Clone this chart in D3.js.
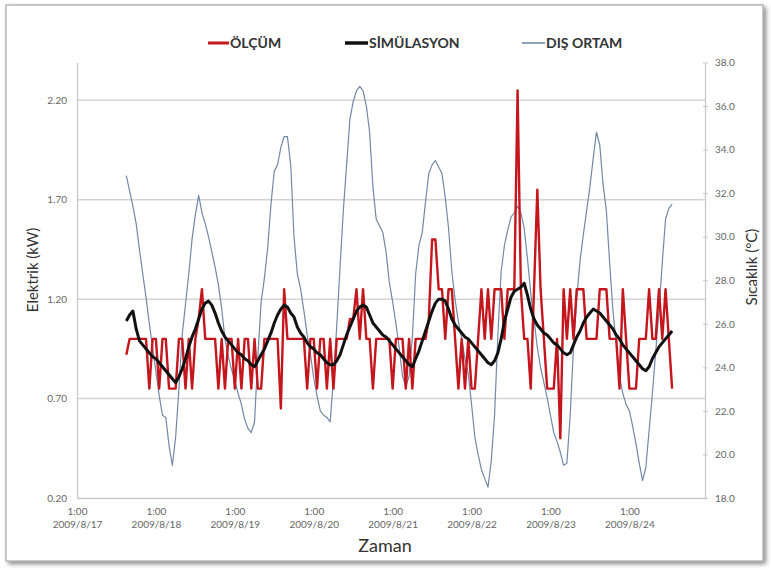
<!DOCTYPE html>
<html><head><meta charset="utf-8">
<script src="https://cdn.jsdelivr.net/npm/d3@7"></script>
<style>
html,body{margin:0;padding:0;background:#fff;}
svg{display:block;}
text{font-family:Lato,"Open Sans",sans-serif;}
</style></head>
<body>
<svg id="c" width="771" height="570"></svg>
<script>
// ---- data (hourly, starting 2009/8/17 16:00) ----
const startHourOffset = 15; // hours after 2009/8/17 1:00
const olcum = [
0.92,1.0,1.0,1.0,1.0,1.0,1.0,0.75,1.0,1.0,
0.75,1.0,1.0,0.75,0.75,0.75,1.0,1.0,0.75,1.0,
0.75,1.0,1.1,1.25,1.0,1.0,1.0,1.0,0.75,1.0,
0.75,1.0,1.0,0.75,1.0,0.75,1.0,1.0,0.75,1.0,
0.75,0.75,1.0,1.0,1.0,1.0,1.0,0.65,1.25,1.0,
1.0,1.0,1.0,1.0,1.0,0.75,1.0,1.0,0.75,1.0,
1.0,0.75,1.0,0.75,1.0,1.0,1.0,1.0,1.1,1.1,
1.25,1.0,1.25,1.0,1.0,0.75,1.0,1.0,1.0,1.0,
1.0,0.75,1.0,1.0,1.0,0.75,1.0,0.75,1.0,1.0,
1.0,1.0,1.1,1.5,1.5,1.25,1.25,1.0,1.25,1.25,
1.0,0.75,1.0,0.75,1.0,0.75,0.75,1.0,1.25,1.0,
1.25,1.0,1.25,1.25,1.25,1.0,1.25,1.25,1.25,2.25,
1.25,1.0,1.0,0.75,1.25,1.75,1.25,1.0,0.75,0.75,
0.75,1.0,0.5,1.25,1.0,1.25,1.0,1.25,1.25,1.25,
1.0,1.0,1.0,1.0,1.25,1.25,1.25,1.0,1.0,1.0,
0.75,1.25,1.0,0.75,0.75,0.75,1.0,1.0,1.0,1.25,
1.0,1.0,1.25,1.0,1.25,1.0,0.75
];
const simulasyon = [
1.09,1.12,1.14,1.05,0.99,0.97,0.95,0.93,0.91,0.90,
0.88,0.86,0.84,0.82,0.80,0.78,0.81,0.85,0.90,0.96,
1.01,1.05,1.10,1.15,1.18,1.19,1.17,1.13,1.08,1.04,
1.01,0.99,0.97,0.95,0.93,0.92,0.90,0.89,0.87,0.86,
0.89,0.92,0.95,0.99,1.03,1.08,1.12,1.15,1.17,1.16,
1.13,1.11,1.06,1.03,1.01,0.98,0.96,0.95,0.93,0.92,
0.90,0.88,0.87,0.87,0.89,0.92,0.97,1.02,1.06,1.10,
1.14,1.16,1.17,1.16,1.12,1.08,1.06,1.04,1.02,1.01,
0.99,0.97,0.95,0.93,0.91,0.89,0.87,0.86,0.90,0.94,
0.99,1.04,1.09,1.14,1.18,1.20,1.20,1.19,1.15,1.10,
1.07,1.05,1.03,1.01,1.00,0.98,0.96,0.94,0.92,0.90,
0.88,0.87,0.89,0.93,1.00,1.09,1.15,1.21,1.24,1.25,
1.26,1.28,1.22,1.15,1.10,1.07,1.05,1.03,1.02,1.00,
0.98,0.97,0.95,0.93,0.92,0.93,0.97,1.01,1.04,1.08,
1.11,1.13,1.15,1.14,1.13,1.11,1.09,1.07,1.05,1.02,
1.00,0.97,0.95,0.93,0.91,0.89,0.87,0.85,0.84,0.86,
0.90,0.93,0.96,0.98,1.00,1.02,1.04
];
const disOrtam = [
32.8,32.1,31.4,30.6,29.4,28.3,27.2,26.0,24.9,23.8,
22.7,21.8,21.7,20.4,19.5,20.8,23.0,25.5,26.9,28.3,
29.9,31.0,31.9,31.1,30.6,30.0,29.3,28.6,27.8,26.7,
25.3,24.5,23.9,23.4,22.8,22.3,21.6,21.2,21.0,21.5,
24.5,27.0,28.1,29.5,31.5,33.0,33.3,34.1,34.6,34.6,
33.3,30.0,28.3,27.6,26.6,25.5,24.6,23.5,22.7,22.0,
21.8,21.7,21.5,23.5,25.9,28.6,31.2,33.3,35.4,36.2,
36.7,36.9,36.7,36.0,34.8,32.3,30.8,30.5,30.2,29.3,
27.9,27.0,26.0,24.9,23.6,23.1,23.6,25.4,28.3,29.6,
30.2,31.6,32.9,33.3,33.5,33.2,32.9,31.8,30.4,28.4,
27.1,26.1,25.3,24.4,23.7,22.3,20.8,20.0,19.3,18.9,
18.5,19.7,21.8,25.5,28.4,29.6,30.3,30.9,31.1,31.4,
31.1,30.4,29.0,27.4,26.2,24.9,24.0,23.3,22.6,21.8,
21.0,20.6,20.1,19.5,19.6,21.8,24.9,27.2,28.9,30.1,
31.2,32.3,33.6,34.8,34.2,32.4,31.2,28.8,26.6,25.1,
23.6,22.8,22.3,22.0,21.3,20.5,19.6,18.8,19.4,21.1,
22.8,24.7,26.6,28.8,30.8,31.3,31.5
];
const xTickDates = ["2009/8/17","2009/8/18","2009/8/19","2009/8/20","2009/8/21","2009/8/22","2009/8/23","2009/8/24"];
const xTickTime = "1:00";
const leftTicks = [0.20,0.70,1.20,1.70,2.20];
const rightTicks = [18,20,22,24,26,28,30,32,34,36,38];
const seriesNames = ["ÖLÇÜM","SİMÜLASYON","DIŞ ORTAM"];

// ---- layout ----
const svg = d3.select("#c");
const L = 77, R = 705, T = 62.5, B = 498;
const t0 = new Date(2009,7,17,1);
const hour = 3600e3;
const x = d3.scaleTime().domain([t0, new Date(2009,7,25,0)]).range([L,R]);
const yL = d3.scaleLinear().domain([0.2,2.39]).range([B,T]);
const yR = d3.scaleLinear().domain([18,38]).range([B,T]);
const tAt = i => new Date(t0.getTime() + (startHourOffset+i)*hour);

// frame with shadow
const defs = svg.append("defs");
const f = defs.append("filter").attr("id","sh").attr("x","-5%").attr("y","-5%").attr("width","110%").attr("height","110%");
f.append("feDropShadow").attr("dx",2.5).attr("dy",2.5).attr("stdDeviation",2).attr("flood-color","#000").attr("flood-opacity",0.45);
svg.append("rect").attr("x",6).attr("y",5).attr("width",757).attr("height",556)
  .attr("fill","#fff").attr("stroke","#a6a6a6").attr("stroke-width",1.2).attr("filter","url(#sh)");

// gridlines
svg.append("g").selectAll("line").data(leftTicks.slice(1)).join("line")
  .attr("x1",L).attr("x2",R).attr("y1",d=>yL(d)).attr("y2",d=>yL(d))
  .attr("stroke","#d4d4d4").attr("stroke-width",1.5);

// left axis
const gL = svg.append("g").attr("transform",`translate(${L},0)`)
  .call(d3.axisLeft(yL).tickValues(leftTicks).tickFormat(d3.format(".2f")).tickSize(0).tickPadding(10));
gL.select(".domain").attr("stroke","#c8c8c8").attr("stroke-width",1.3);
gL.selectAll("text").attr("fill","#666").attr("font-size",10).style("font-family","Lato");

// right axis
const gR = svg.append("g").attr("transform",`translate(${R},0)`)
  .call(d3.axisRight(yR).tickValues(rightTicks).tickFormat(d3.format(".1f")).tickSizeInner(3).tickSizeOuter(0).tickPadding(7));
gR.select(".domain").attr("stroke","#c8c8c8").attr("stroke-width",1.3);
gR.selectAll(".tick line").attr("stroke","#c8c8c8").attr("x1",-2);
gR.selectAll("text").attr("fill","#666").attr("font-size",10).style("font-family","Lato");

// bottom axis
const tickDates = xTickDates.map((s,k)=>new Date(t0.getTime()+k*24*hour));
const gB = svg.append("g").attr("transform",`translate(0,${B})`)
  .call(d3.axisBottom(x).tickValues(tickDates).tickSize(0).tickFormat(()=>""));
gB.select(".domain").attr("stroke","#c8c8c8").attr("stroke-width",1.3);
gB.selectAll(".tick").each(function(d,k){
  const g = d3.select(this);
  g.select("text").remove();
  g.append("text").attr("y",17).attr("text-anchor","middle").attr("fill","#666").attr("font-size",10).text(xTickTime);
  g.append("text").attr("y",30).attr("text-anchor","middle").attr("fill","#666").attr("font-size",10).text(xTickDates[k]);
});

// lines
const mk = (arr, y) => d3.line().x((d,i)=>x(tAt(i))).y(d=>y(d))(arr);
svg.append("path").attr("d",mk(disOrtam,yR)).attr("fill","none").attr("stroke","#7388a6").attr("stroke-width",1.2).attr("stroke-linejoin","round");
svg.append("path").attr("d",mk(olcum,yL)).attr("fill","none").attr("stroke","#c4161c").attr("stroke-width",2.4).attr("stroke-linejoin","round");
svg.append("path").attr("d",mk(simulasyon,yL)).attr("fill","none").attr("stroke","#111").attr("stroke-width",3).attr("stroke-linejoin","round");

// axis titles
svg.append("text").attr("x",385).attr("y",552).attr("text-anchor","middle").attr("font-size",18).attr("fill","#333").text("Zaman");
svg.append("text").attr("transform","translate(38,270) rotate(-90)").attr("text-anchor","middle").attr("font-size",15).attr("fill","#333").text("Elektrik (kW)");
svg.append("text").attr("transform","translate(757,267) rotate(-90)").attr("text-anchor","middle").attr("font-size",15).attr("fill","#333").text("Sıcaklık (°C)");

// legend
const legend = [
  {name:seriesNames[0], color:"#c4161c", w:3, x0:208, x1:229},
  {name:seriesNames[1], color:"#111", w:3.5, x0:345, x1:368},
  {name:seriesNames[2], color:"#8fa3bd", w:2, x0:522, x1:545}
];
const lg = svg.append("g");
legend.forEach(d=>{
  lg.append("line").attr("x1",d.x0).attr("x2",d.x1).attr("y1",43).attr("y2",43).attr("stroke",d.color).attr("stroke-width",d.w);
  lg.append("text").attr("x",d.x1+1).attr("y",48).attr("font-size",14).attr("font-weight","bold").attr("fill","#333").text(d.name);
});
</script>
</body></html>
